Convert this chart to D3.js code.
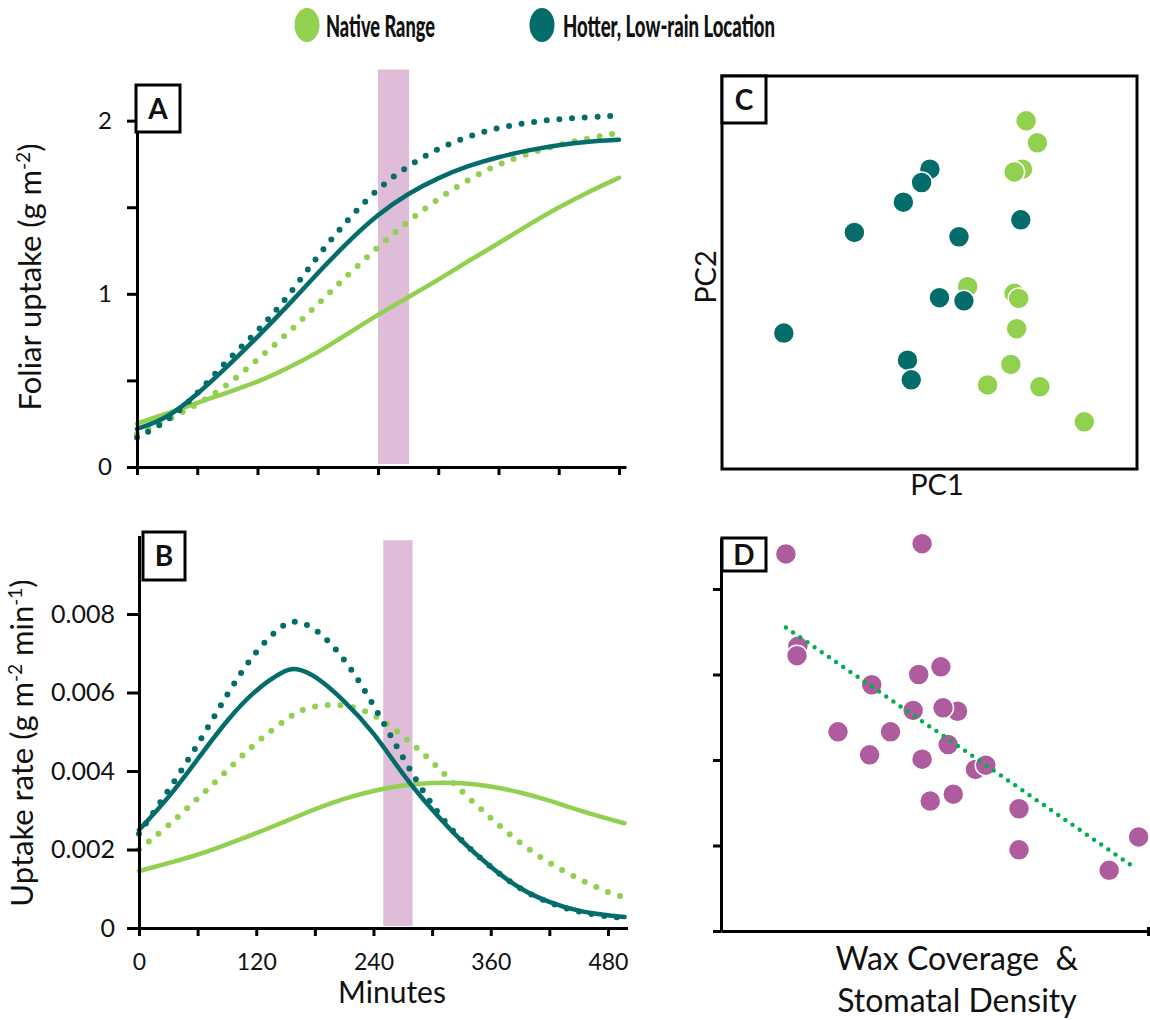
<!DOCTYPE html>
<html><head><meta charset="utf-8">
<script src="https://cdn.jsdelivr.net/npm/d3@7"></script>
<style>
body{margin:0;background:#fff}
svg text{font-family:Lato,"Open Sans",sans-serif;fill:#111}
</style>
</head><body>
<svg id="chart" width="1150" height="1020"></svg>
<script>
// ---------- data ----------
const seriesNames = ["Native Range", "Hotter, Low-rain Location"];
const colGreen = "#92D050", colTeal = "#046D6C", colPurple = "#AF5C9F", colBand = "#DFBCD8", colTrend = "#00B050";

// Panel A: foliar uptake (g m-2) vs minutes
const minutesA = [0,30,60,90,120,150,180,210,240,270,300,330,360,390,420,450,480];
const aTealSolid  = [0.22,0.28,0.42,0.58,0.75,0.93,1.12,1.30,1.46,1.58,1.67,1.74,1.79,1.83,1.86,1.88,1.89];
const aTealDotted = [0.17,0.26,0.42,0.62,0.78,0.98,1.22,1.43,1.61,1.74,1.84,1.91,1.96,1.99,2.01,2.02,2.03];
const aGreenDotted= [0.19,0.27,0.36,0.47,0.62,0.77,0.94,1.11,1.27,1.42,1.55,1.66,1.75,1.81,1.86,1.90,1.93];
const aGreenSolid = [0.25,0.31,0.37,0.43,0.49,0.57,0.66,0.77,0.88,0.98,1.08,1.19,1.29,1.40,1.50,1.59,1.67];
const bandA = [240, 271, 2.295];
const ticksA_y = [0,0.5,1,1.5,2];
const labelsA_y = ["0","","1","","2"];
const ticksX = [0,60,120,180,240,300,360,420,480];
const labelsX = ["0","","120","","240","","360","","480"];

// Panel B: uptake rate (g m-2 min-1) vs minutes
const minutesB = [0,30,60,90,120,150,160,180,210,240,270,300,330,360,390,420,450,480,497];
const bTealSolid  = [0.0025,0.0033,0.0043,0.0053,0.0061,0.00658,0.00663,0.00645,0.0058,0.0050,0.0039,0.0030,0.0022,0.00155,0.00098,0.00065,0.00042,0.00032,0.00028];
const bTealDotted = [0.0024,0.0035,0.00465,0.00596,0.0071,0.0078,0.00782,0.00768,0.0069,0.0057,0.00433,0.0031,0.0022,0.00155,0.00098,0.00063,0.0004,0.00029,0.00026];
const bGreenDotted= [0.0020,0.0026,0.0033,0.0040,0.00475,0.0053,0.00548,0.00568,0.00571,0.00548,0.0049,0.00425,0.00348,0.0028,0.00215,0.00165,0.00125,0.0009,0.00078];
const bGreenSolid = [0.00145,0.00165,0.00186,0.00213,0.00241,0.00272,0.00282,0.00303,0.00330,0.00350,0.00364,0.00371,0.00370,0.00362,0.00346,0.00325,0.00300,0.00278,0.00267];
const bandB = [250, 280, 0.00988];
const ticksB_y = [0,0.002,0.004,0.006,0.008];
const labelsB_y = ["0","0.002","0.004","0.006","0.008"];

// Panel C: PCA scores (PC1, PC2)
const cGreenPC1 = [73.3,76.0,72.4,70.4,59.2,70.4,71.5,71.0,69.6,64.0,76.6,87.3];
const cGreenPC2 = [88.6,83.0,76.3,75.6,46.4,44.7,43.4,35.7,26.6,21.4,20.9,12.0];
const cTealPC1  = [50.1,48.1,43.7,31.9,57.1,72.0,52.4,58.3,14.9,44.7,45.6];
const cTealPC2  = [76.3,72.9,67.9,60.2,59.1,63.4,43.6,42.8,34.6,27.7,22.7];

// Panel D: uptake vs wax coverage & stomatal density
const dX = [1.52,4.71,1.80,1.78,3.53,4.63,5.15,4.50,5.54,5.20,2.74,3.97,3.48,4.71,5.32,5.96,6.20,4.90,5.44,6.98,6.98,9.09,9.78];
const dY = [4.41,4.53,3.33,3.22,2.88,3.00,3.09,2.58,2.57,2.61,2.33,2.33,2.06,2.01,2.18,1.89,1.94,1.52,1.60,1.43,0.95,0.71,1.10];
const trendX = [1.52, 9.72];
const trendY = [3.55, 0.73];
const ticksD_y = [0,1,2,3,4];

// ---------- drawing ----------
const svg = d3.select("#chart");
const zip = (xs, ys) => xs.map((x,i)=>[x, ys[i]]);

function styleAxis(g, fs){
  g.selectAll(".domain").attr("stroke","#000").attr("stroke-width",3);
  g.selectAll(".tick line").attr("stroke","#000").attr("stroke-width",3);
  g.selectAll(".tick text").attr("font-size",fs).attr("font-family","Lato").attr("fill","#111");
}

function drawCurves(g, xs, ysList, x, y){
  const line = d3.line().x(d=>x(d[0])).y(d=>y(d[1])).curve(d3.curveBasis);
  ysList.forEach(s=>{
    g.append("path").datum(zip(xs, s.v)).attr("d", line)
      .attr("fill","none").attr("stroke", s.c)
      .attr("stroke-width", s.dot ? 6 : 4.5)
      .attr("stroke-linecap","round")
      .attr("stroke-dasharray", s.dot ? "0 12.7" : null);
  });
}

function labelBox(x0,y0,w,h,t){
  svg.append("rect").attr("x",x0).attr("y",y0).attr("width",w).attr("height",h)
    .attr("fill","#fff").attr("stroke","#000").attr("stroke-width",3);
  svg.append("text").attr("x",x0+w/2).attr("y",y0+h/2+10).attr("text-anchor","middle")
    .attr("font-size",28).attr("font-weight","bold").text(t);
}

// ----- Panel A -----
const xA = d3.scaleLinear().domain([0,487]).range([137,626]);
const yA = d3.scaleLinear().domain([0,2.2]).range([467,86]);
const gA = svg.append("g");
gA.append("rect").attr("x",xA(bandA[0])).attr("width",xA(bandA[1])-xA(bandA[0]))
  .attr("y",yA(bandA[2])).attr("height",yA(0)-yA(bandA[2])-3).attr("fill",colBand);
drawCurves(gA, minutesA, [
  {v:aGreenSolid,c:colGreen},{v:aGreenDotted,c:colGreen,dot:true},
  {v:aTealSolid,c:colTeal},{v:aTealDotted,c:colTeal,dot:true}], xA, yA);
const axAx = gA.append("g").attr("transform",`translate(0,${yA(0)})`)
  .call(d3.axisBottom(xA).tickValues(ticksX).tickSize(8).tickSizeOuter(0).tickFormat(()=>""));
styleAxis(axAx,22);
const axAy = gA.append("g").attr("transform",`translate(${xA(0)},0)`)
  .call(d3.axisLeft(yA).tickValues(ticksA_y).tickSize(10).tickPadding(15).tickSizeOuter(0)
    .tickFormat((d,i)=>labelsA_y[i]));
styleAxis(axAy,24);
const tA = svg.append("text").attr("transform","translate(41,277) rotate(-90)")
  .attr("text-anchor","middle").attr("font-size",31);
tA.append("tspan").text("Foliar uptake (g m");
tA.append("tspan").attr("dy",-11).attr("font-size",19).text("-2");
tA.append("tspan").attr("dy",11).text(")");
labelBox(136,85,44,47,"A");

// ----- Panel B -----
const xB = d3.scaleLinear().domain([0,500]).range([139,627.5]);
const yB = d3.scaleLinear().domain([0,0.01]).range([928,535.5]);
const gB = svg.append("g");
gB.append("rect").attr("x",xB(bandB[0])).attr("width",xB(bandB[1])-xB(bandB[0]))
  .attr("y",yB(bandB[2])).attr("height",yB(0)-yB(bandB[2])-2).attr("fill",colBand);
drawCurves(gB, minutesB, [
  {v:bGreenSolid,c:colGreen},{v:bGreenDotted,c:colGreen,dot:true},
  {v:bTealSolid,c:colTeal},{v:bTealDotted,c:colTeal,dot:true}], xB, yB);
const axBx = gB.append("g").attr("transform",`translate(0,${yB(0)})`)
  .call(d3.axisBottom(xB).tickValues(ticksX).tickSize(8).tickPadding(18).tickSizeOuter(0)
    .tickFormat((d,i)=>labelsX[i]));
styleAxis(axBx,23);
const axBy = gB.append("g").attr("transform",`translate(${xB(0)},0)`)
  .call(d3.axisLeft(yB).tickValues(ticksB_y).tickSize(12).tickPadding(12).tickSizeOuter(0)
    .tickFormat((d,i)=>labelsB_y[i]));
styleAxis(axBy,25);
const tB = svg.append("text").attr("transform","translate(33,743) rotate(-90)")
  .attr("text-anchor","middle").attr("font-size",31);
tB.append("tspan").text("Uptake rate (g m");
tB.append("tspan").attr("dy",-11).attr("font-size",19).text("-2");
tB.append("tspan").attr("dy",11).text(" min");
tB.append("tspan").attr("dy",-11).attr("font-size",19).text("-1");
tB.append("tspan").attr("dy",11).text(")");
svg.append("text").attr("x",392).attr("y",1003).attr("text-anchor","middle").attr("font-size",30).text("Minutes");
labelBox(143,532,42,48,"B");

// ----- Panel C -----
const xC = d3.scaleLinear().domain([0,100]).range([722,1137]);
const yC = d3.scaleLinear().domain([0,100]).range([469,76]);
svg.append("rect").attr("x",xC(0)).attr("y",yC(100)).attr("width",xC(100)-xC(0)).attr("height",yC(0)-yC(100))
  .attr("fill","none").attr("stroke","#000").attr("stroke-width",3);
const gC = svg.append("g");
gC.selectAll(".g").data(zip(cGreenPC1,cGreenPC2)).join("circle")
  .attr("cx",d=>xC(d[0])).attr("cy",d=>yC(d[1])).attr("r",10.5)
  .attr("fill",colGreen).attr("stroke","#fff").attr("stroke-width",1.5);
gC.selectAll(".t").data(zip(cTealPC1,cTealPC2)).join("circle")
  .attr("cx",d=>xC(d[0])).attr("cy",d=>yC(d[1])).attr("r",10.5)
  .attr("fill",colTeal).attr("stroke","#fff").attr("stroke-width",1.5);
svg.append("text").attr("x",937).attr("y",495).attr("text-anchor","middle").attr("font-size",29).text("PC1");
svg.append("text").attr("transform","translate(716,277) rotate(-90)").attr("text-anchor","middle").attr("font-size",29).text("PC2");
labelBox(722,76,44,47,"C");

// ----- Panel D -----
const xD = d3.scaleLinear().domain([0,10]).range([721,1148]);
const yD = d3.scaleLinear().domain([0,4.6]).range([931,537.7]);
const gD = svg.append("g");
const axDy = gD.append("g").attr("transform",`translate(${xD(0)},0)`)
  .call(d3.axisLeft(yD).tickValues(ticksD_y).tickSize(8).tickSizeOuter(0).tickFormat(()=>""));
styleAxis(axDy,20);
const axDx = gD.append("g").attr("transform",`translate(0,${yD(0)})`)
  .call(d3.axisBottom(xD).tickValues([10]).tickSize(5).tickSizeOuter(0).tickFormat(()=>""));
styleAxis(axDx,20);
axDx.selectAll(".tick line").attr("y1",-4);
gD.selectAll(".p").data(zip(dX,dY)).join("circle")
  .attr("cx",d=>xD(d[0])).attr("cy",d=>yD(d[1])).attr("r",10.5)
  .attr("fill",colPurple).attr("stroke","#fff").attr("stroke-width",1.5);
gD.append("path").datum(zip(trendX,trendY))
  .attr("d", d3.line().x(d=>xD(d[0])).y(d=>yD(d[1])))
  .attr("stroke",colTrend).attr("stroke-width",4.5).attr("stroke-linecap","round")
  .attr("stroke-dasharray","0 8.7").attr("fill","none");
svg.append("text").attr("x",957).attr("y",970).attr("text-anchor","middle").attr("font-size",32).attr("xml:space","preserve").text("Wax Coverage  &");
svg.append("text").attr("x",957).attr("y",1012).attr("text-anchor","middle").attr("font-size",32).text("Stomatal Density");
labelBox(722,538,44,33,"D");

// ----- Legend -----
const legX = [307, 542], legTextX = [326, 563], legW = [109, 212], legC = [colGreen, colTeal];
seriesNames.forEach((n,i)=>{
  svg.append("ellipse").attr("cx",legX[i]).attr("cy",25).attr("rx",12.5).attr("ry",17).attr("fill",legC[i]);
  svg.append("text").attr("x",legTextX[i]).attr("y",37).attr("font-size",30).attr("font-weight",900)
    .attr("textLength",legW[i]).attr("lengthAdjust","spacingAndGlyphs").text(n);
});
</script>
</body></html>
